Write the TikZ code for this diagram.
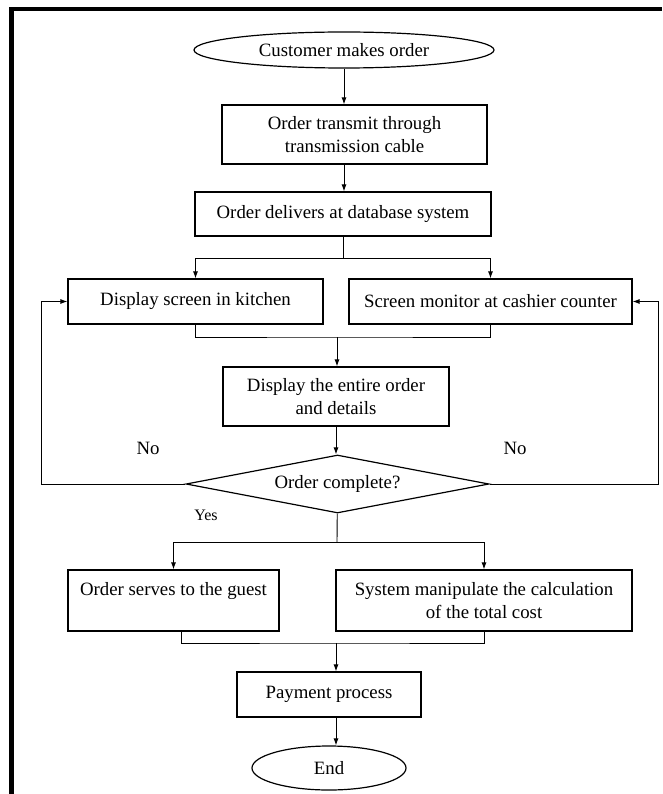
\documentclass[tikz,border=0pt]{standalone}
\usepackage{fontspec}
\setmainfont{Liberation Serif}
\usetikzlibrary{shapes.geometric, arrows.meta}

\newcommand{\chartfont}{\fontsize{18.8}{23.5}\selectfont}

\begin{document}
\begin{tikzpicture}[> = {Latex[length = 7pt, width = 5pt]}, x = 1pt, y = -1pt,
	box/.style = {draw, line width = 1.2pt, align = center, inner sep = 0pt, font = \chartfont},
	terminal/.style = {ellipse, draw, line width = 1.2pt, inner sep = 0pt, font = \chartfont},
	decision/.style = {diamond, draw, line width = 1.2pt, shape aspect = 5, inner sep = 0pt, font = \chartfont},
	flow/.style = {line width = 0.9pt},
	remark/.style = {inner sep = 0pt, font = \chartfont}]

	% Page and frame (top and left edge only)

	\useasboundingbox (0, 0) rectangle (662, 794);
	\draw [line width = 4.5pt, line join = miter] (11.7, 794) -- (11.7, 9) -- (662, 9);

	% Steps

	\node [terminal, minimum width = 300pt, minimum height = 36pt] (start) at (344, 50) {Customer makes order};
	\node [box, minimum width = 265pt, minimum height = 59pt] (transmit) at (354.5, 134.5) {Order transmit through\\transmission cable};
	\node [box, minimum width = 296pt, minimum height = 44pt] (database) at (343, 214) {Order delivers at database system};
	\node [box, minimum width = 255pt, minimum height = 45pt] (kitchen) at (195.5, 301.5) {Display screen in kitchen};
	\node [box, minimum width = 283pt, minimum height = 45pt] (cashier) at (490.5, 301.5) {Screen monitor at cashier counter};
	\node [box, minimum width = 226pt, minimum height = 59pt] (details) at (336, 396.5) {Display the entire order\\and details};
	\node [decision, minimum width = 303pt, minimum height = 58pt] (check) at (337.5, 484) {Order complete?};
	\node [box, minimum width = 211pt, minimum height = 61pt] (serve) at (173.5, 600.5) {Order serves to the guest\\\phantom{x}};
	\node [box, minimum width = 296pt, minimum height = 61pt] (calc) at (484, 600.5) {System manipulate the calculation\\of the total cost};
	\node [box, minimum width = 184pt, minimum height = 45pt] (payment) at (329, 694.5) {Payment process};
	\node [terminal, minimum width = 154pt, minimum height = 44pt] (finish) at (329, 768) {End};

	% Labels

	\node [remark] (noL) at (148, 448) {No};
	\node [remark] (noR) at (515, 448) {No};
	\node [remark, font = \fontsize{16}{19}\selectfont] (yes) at (206, 515) {Yes};

	% Order in

	\draw [flow, ->] (start) -- (start |- transmit.north);
	\draw [flow, ->] (start |- transmit.south) -- (start |- database.north);

	% Split to the two screens and merge again

	\coordinate (split) at (343, 258);
	\draw [flow] (database) -- (split);
	\draw [flow, ->] (split) -| (kitchen);
	\draw [flow, ->] (split) -| (cashier);

	\coordinate (merge) at (337, 337);
	\draw [flow] (kitchen) |- (merge) -| (cashier);
	\draw [flow, ->] (merge) -- (merge |- details.north);
	\draw [flow, ->] (details.south) -- (details.south |- check.north);

	% No: back to the screens

	\coordinate (loopL) at (41, 484);
	\coordinate (loopR) at (658, 484);
	\draw [flow, ->] (check.west) -- (loopL) |- (kitchen.west);
	\draw [flow, ->] (check.east) -- (loopR) |- (cashier.east);

	% Yes: serve and bill

	\coordinate (split2) at (337, 542);
	\draw [flow] (check) -- (split2);
	\draw [flow, ->] (split2) -| (serve);
	\draw [flow, ->] (split2) -| (calc);

	\coordinate (merge2) at (336, 643);
	\draw [flow] ([xshift = 7.5pt] serve.south) |- (merge2) -| (calc);
	\draw [flow, ->] (merge2) -- (merge2 |- payment.north);
	\draw [flow, ->] (merge2 |- payment.south) -- (merge2 |- finish.north);

\end{tikzpicture}
\end{document}
